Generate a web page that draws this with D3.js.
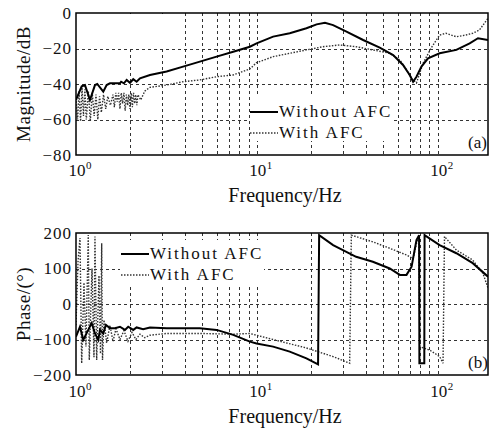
<!DOCTYPE html>
<html>
<head>
<meta charset="utf-8">
<script src="https://d3js.org/d3.v7.min.js"></script>
<style>
  body { margin: 0; background: #fff; }
  text { font-family: "Liberation Serif", "Times New Roman", serif; fill: #111; }
</style>
</head>
<body>
<svg id="chart" width="490" height="428"></svg>
<script>
// ---- data ----
const xTickExps = [0, 1, 2];
const gridFreqs = [2, 3, 4, 5, 6, 7, 8, 9, 10, 20, 30, 40, 50, 60, 70, 80, 90, 100];
const magTicks = [0, -20, -40, -60, -80];
const phaseTicks = [200, 100, 0, -100, -200];
const legendLabels = ["Without AFC", "With AFC"];

// (a) magnitude, without AFC (solid)
const magFreqNo = [1.0, 1.075, 1.121, 1.195, 1.273, 1.311, 1.415, 1.477, 1.541, 1.75, 1.776, 1.841, 1.906, 1.988, 2.073, 2.163, 2.258, 2.564, 3.17, 3.91, 4.84, 5.99, 7.4, 9.15, 9.96, 12.3, 15.2, 18.8, 21.4, 23.8, 26.4, 31.3, 38.7, 47.8, 56.7, 64.3, 70.0, 73.1, 76.3, 81.3, 88.4, 102.5, 126.8, 150.2, 167.0, 189.7];
const magNo = [-49, -41.3, -40.6, -49, -40.6, -40, -44.3, -40.6, -39.6, -39.6, -38.7, -39.6, -37.7, -39.3, -37.3, -38.7, -36.8, -34.9, -33, -30.2, -27.4, -24.6, -21.8, -19, -17.1, -13.3, -11.4, -8.6, -6.4, -5.5, -6.8, -10.5, -15.2, -19.5, -23.7, -29.3, -34.9, -38.7, -35.9, -30.2, -25.5, -22.7, -20.8, -17.1, -14.2, -15.2];

// (a) magnitude, with AFC (dotted)
const magFreqAfc = [1.0, 1.02, 1.04, 1.06, 1.08, 1.10, 1.12, 1.14, 1.17, 1.20, 1.23, 1.26, 1.29, 1.32, 1.35, 1.38, 1.42, 1.46, 1.50, 1.55, 1.60, 1.63, 1.66, 1.69, 1.72, 1.75, 1.78, 1.81, 1.84, 1.87, 1.90, 1.93, 1.96, 1.99, 2.02, 2.05, 2.08, 2.11, 2.14, 2.17, 2.20, 2.28, 2.40, 2.56, 3.17, 3.91, 4.84, 5.99, 7.4, 9.15, 9.96, 12.3, 15.2, 18.8, 23.2, 28.7, 35.4, 43.8, 54.3, 61.8, 67.2, 71.7, 76.3, 83.0, 91.8, 102.5, 111.1, 126.8, 143.4, 156.2, 170, 189.7];
const magAfc = [-48, -60, -44, -61, -42, -58, -43, -60, -44, -61, -45, -58, -46, -60, -47, -56, -46, -54, -47, -52, -46, -53, -45, -50, -45, -54, -45, -51, -45, -55, -46, -52, -46, -54, -45, -53, -45, -51, -46, -52, -46, -49, -44, -41.9, -40.6, -38.7, -37.7, -35.9, -34.9, -31.5, -28, -24.6, -22.7, -20.8, -19, -18, -19, -20.8, -22.7, -26.5, -32.1, -36.8, -39.4, -28.3, -19.9, -12.4, -11.4, -13.4, -12.4, -11.4, -9.6, -3];

// (b) phase, without AFC (solid)
const phFreqNo = [1.0, 1.052, 1.097, 1.169, 1.221, 1.273, 1.328, 1.357, 1.415, 1.464, 1.541, 1.642, 1.75, 1.865, 1.944, 2.073, 2.163, 2.35, 2.564, 3.17, 4.84, 5.99, 7.4, 9.15, 9.96, 12.3, 15.2, 18.8, 21.8, 22.1, 26.4, 35.4, 43.8, 54.3, 61.8, 67.2, 71.7, 76.3, 78.9, 79.2, 84.3, 84.6, 102.5, 126.8, 156.2, 189.7];
const phNo = [-92, -64, -101, -73, -54, -83, -101, -73, -83, -59, -68, -68, -64, -73, -64, -73, -66, -71, -66, -68, -68, -73, -87, -106, -111, -120, -134, -153, -170, 194, 166, 133, 119, 100, 82, 82, 105, 180, 194, -167, -167, 194, 166, 143, 115, 77];

// (b) phase, with AFC (dotted)
const phFreqAfc = [1.0, 1.026, 1.052, 1.075, 1.107, 1.135, 1.169, 1.184, 1.226, 1.257, 1.273, 1.301, 1.34, 1.366, 1.387, 1.401, 1.428, 1.477, 1.541, 1.601, 1.664, 1.75, 1.841, 1.938, 2.04, 2.145, 2.258, 2.4, 2.56, 3.17, 4.84, 7.4, 9.15, 12.3, 18.8, 26.4, 32.6, 33.3, 43.8, 54.3, 67.2, 73.1, 76.3, 78.6, 79.7, 90.4, 102.5, 107, 109, 126.8, 156, 178, 189.7];
const phAfc = [-60, 120, 186, -167, 60, -120, 194, -158, 100, -150, 190, -158, 80, -140, 171, -158, -45, -110, -60, -105, -70, -100, -75, -105, -80, -100, -85, -95, -88, -83, -83, -85, -83, -100, -124, -148, -167, 194, 175, 157, 138, 128, 170, 190, -120, -130, -148, -167, 190, 152, 124, 86, 45];

// ---- layout ----
const svg = d3.select("#chart");
const left = 76, right = 488;
const x = d3.scaleLog().domain([1, 189.7]).range([left, right]);

const panels = [
  { id: "a", top: 13, bottom: 155, domain: [-80, 0], ticks: magTicks, label: "Magnitude/dB",
    series: [[magFreqNo, magNo, false], [magFreqAfc, magAfc, true]],
    blank: [[77, 14, 106, 35], [250, 97, 142, 44]],
    legend: [250, 112], tag: "(a)", tagY: 148, xLabelY: 202, tickY: 176 },
  { id: "b", top: 233, bottom: 375, domain: [-200, 200], ticks: phaseTicks, label: "Phase/(\u00B0)",
    series: [[phFreqNo, phNo, false], [phFreqAfc, phAfc, true]],
    blank: [[120, 240, 144, 44]],
    legend: [121, 254], tag: "(b)", tagY: 368, xLabelY: 423, tickY: 397 }
];

function styleLine(sel, dotted) {
  sel.attr("fill", "none")
    .attr("stroke", dotted ? "#333" : "#000")
    .attr("stroke-width", dotted ? 1.4 : 2)
    .attr("stroke-dasharray", dotted ? "1.5,1.5" : null);
}

panels.forEach(p => {
  const y = d3.scaleLinear().domain(p.domain).range([p.bottom, p.top]);
  const g = svg.append("g");

  g.append("clipPath").attr("id", "clip-" + p.id)
    .append("rect").attr("x", left).attr("y", p.top)
    .attr("width", right - left).attr("height", p.bottom - p.top);

  // grid
  const grid = g.append("g").attr("stroke", "#333").attr("stroke-width", 1)
    .attr("stroke-dasharray", "3,3");
  grid.selectAll("line.v").data(gridFreqs).join("line")
    .attr("x1", d => Math.round(x(d)) + 0.5).attr("x2", d => Math.round(x(d)) + 0.5)
    .attr("y1", p.top).attr("y2", p.bottom);
  grid.selectAll("line.h").data(p.ticks.slice(1, -1)).join("line")
    .attr("y1", d => Math.round(y(d)) + 0.5).attr("y2", d => Math.round(y(d)) + 0.5)
    .attr("x1", left).attr("x2", right);

  // patches where the grid is missing in the original
  g.selectAll("rect.blank").data(p.blank).join("rect")
    .attr("x", d => d[0]).attr("y", d => d[1]).attr("width", d => d[2]).attr("height", d => d[3])
    .attr("fill", "#fff");

  // curves
  const line = d3.line().x(d => x(d[0])).y(d => y(d[1]));
  const curves = g.append("g").attr("clip-path", "url(#clip-" + p.id + ")");
  p.series.slice().reverse().forEach(s => {
    const pts = s[0].map((f, i) => [f, s[1][i]]);
    curves.append("path").datum(pts).attr("d", line).call(styleLine, s[2]);
  });

  // frame
  g.append("rect").attr("x", left).attr("y", p.top)
    .attr("width", right - left).attr("height", p.bottom - p.top)
    .attr("fill", "none").attr("stroke", "#000").attr("stroke-width", 1.5);

  // y ticks
  g.selectAll("text.yt").data(p.ticks).join("text")
    .attr("x", 72).attr("y", d => y(d)).attr("dy", "0.35em")
    .attr("text-anchor", "end").style("font-size", "17px").style("letter-spacing", "1px")
    .text(d => d < 0 ? "\u2212" + Math.abs(d) : d);

  // x ticks
  xTickExps.forEach(e => {
    const tx = x(Math.pow(10, e));
    g.append("text").attr("x", tx + 1).attr("y", p.tickY)
      .attr("text-anchor", "middle").style("font-size", "17px").text("10");
    g.append("text").attr("x", tx + 10).attr("y", p.tickY - 7)
      .style("font-size", "11px").text(e);
  });

  // axis labels
  g.append("text").attr("x", 285).attr("y", p.xLabelY).attr("text-anchor", "middle")
    .style("font-size", "20px").text("Frequency/Hz");
  const cy = (p.top + p.bottom) / 2;
  g.append("text").attr("transform", "translate(30," + cy + ") rotate(-90)")
    .attr("text-anchor", "middle").style("font-size", "19px").style("letter-spacing", "0.5px")
    .text(p.label);

  // legend
  const [lx, ly] = p.legend;
  legendLabels.forEach((name, i) => {
    const yy = ly + i * 21;
    g.append("line").attr("x1", lx).attr("x2", lx + 28).attr("y1", yy).attr("y2", yy)
      .call(styleLine, i === 1);
    g.append("text").attr("x", lx + 29).attr("y", yy + 5)
      .style("font-size", "17px").style("letter-spacing", "2px").text(name);
  });

  g.append("text").attr("x", 468).attr("y", p.tagY).style("font-size", "17px").text(p.tag);
});
</script>
</body>
</html>
